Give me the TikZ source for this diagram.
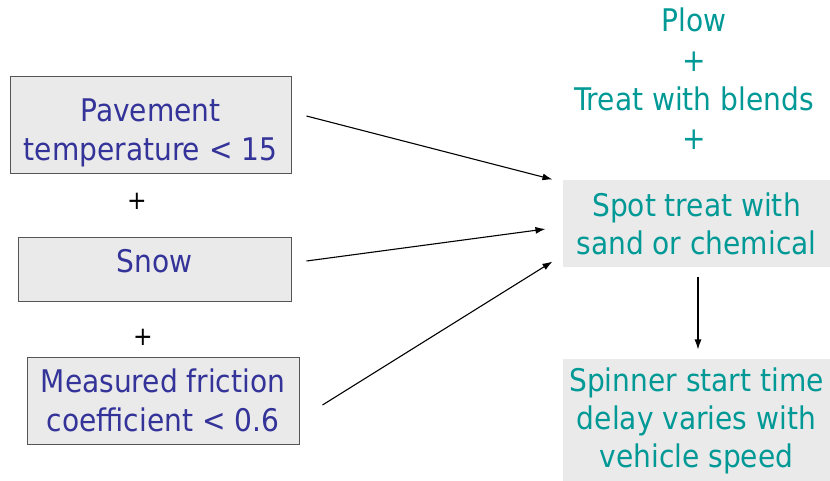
\documentclass[tikz,border=0pt]{standalone}
\usepackage{fontspec}
\setmainfont{DejaVu Sans Condensed}
\usepackage{xcolor}
\usetikzlibrary{
    arrows.meta,
    positioning
}
\definecolor{condblue}{RGB}{51,51,153}
\definecolor{actteal}{RGB}{0,153,150}
\definecolor{boxgray}{RGB}{234,234,234}
\definecolor{edgegray}{RGB}{85,85,85}
\tikzset{
    condbox/.style={draw=edgegray, line width=1pt, fill=boxgray, text=condblue,
        align=center, inner sep=0pt, font=\fontsize{31.2}{39}\selectfont},
    actbox/.style={fill=boxgray, text=actteal, align=center, inner sep=0pt,
        font=\fontsize{31.2}{38}\selectfont},
    plus/.style={font=\fontsize{26}{30}\selectfont}
}

\begin{document}
\begin{tikzpicture}[x=1pt, y=-1pt, >={Latex[length=10pt,width=7pt]}, line width=1.1pt]
                        \useasboundingbox (0, 0) rectangle (830, 480);

                        % conditions
                        \node[condbox, minimum width=281, minimum height=97] (pave) at (150.5, 124.5)
                            {\rule{0pt}{40pt}Pavement\\temperature < 15};
                        \node[plus] (plusa) at (137, 201) {+};
                        \node[condbox, minimum width=273, minimum height=64] (snow) at (154.5, 269)
                            {\rule[-16pt]{0pt}{16pt}Snow};
                        \node[plus] (plusb) at (143, 337) {+};
                        \node[condbox, minimum width=272, minimum height=87] (fric) at (163, 400.5)
                            {Measured friction\\coefficient < 0.6};

                        % actions
                        \node[text=actteal, align=center, font=\fontsize{31.2}{39.3}\selectfont] (plow) at (694, 79)
                            {Plow\\+\\Treat with blends\\+};
                        \node[actbox, minimum width=267, minimum height=87] (spot) at (696.5, 223.5)
                            {Spot treat with\\sand or chemical};
                        \node[actbox, minimum width=267, minimum height=123] (spin) at (696.5, 420.5)
                            {Spinner start time\\delay varies with\\vehicle speed};

                        \draw[->] ([shift={(15,-8.5)}]pave.east) -- ([shift={(-10,0)}]spot.north west);
                        \draw[->] ([shift={(15,-8)}]snow.east) -- ([shift={(-17,5.5)}]spot.west);
                        \draw[->] ([shift={(23,4.5)}]fric.east) -- ([shift={(-10,-6)}]spot.south west);

                        \draw[->, shorten <=9pt, shorten >=9pt] ([xshift=1.5]spot.south) -- ([xshift=1.5]spin.north);
                    \end{tikzpicture}
\end{document}
